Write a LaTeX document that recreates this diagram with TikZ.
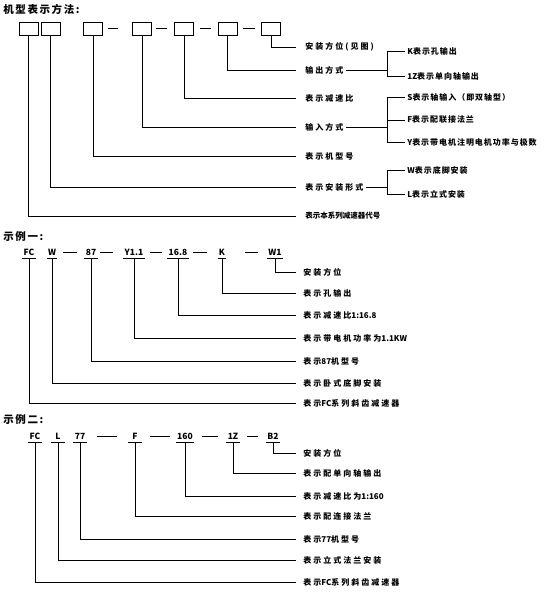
\documentclass[tikz,border=0pt]{standalone}
\usepackage{fontspec}
\newfontfamily\cjk[LetterSpace=25]{Noto Sans CJK SC}
\newfontfamily\cjkn{Noto Sans CJK SC}
\newfontfamily\cjks[LetterSpace=12]{Noto Sans CJK SC}
\newfontfamily\cjkt[LetterSpace=15]{Noto Sans CJK SC}
\newcommand\lat[1]{{\cjkn\bfseries #1}}
\tikzset{
  box/.style={draw, minimum width=19pt, minimum height=13pt, inner sep=0pt},
  lab/.style={anchor=west, inner sep=2pt, font=\cjk\bfseries\fontsize{8}{9}\selectfont},
  sublab/.style={anchor=west, inner sep=2pt, font=\cjks\bfseries\fontsize{8}{9}\selectfont},
  codeA/.style={anchor=south, inner xsep=1pt, inner ysep=2pt, text height=6pt, text depth=0pt, font=\cjkn\bfseries\fontsize{8.5}{9}\selectfont},
  codeB/.style={codeA, minimum width=14pt},
  ttl/.style={anchor=west, inner sep=0pt, font=\cjkt\bfseries\fontsize{10.5}{12}\selectfont}
}
\begin{document}
\begin{tikzpicture}[x=1pt, y=-1pt, line width=0.8pt]
\useasboundingbox[fill=white] (0,0) rectangle (560,598);

% ---------- titles
\node[ttl] (t0) at (3,9) {机型表示方法:};
\node[ttl] (t1) at (3,237) {示例一:};
\node[ttl] (t2) at (3,420) {示例二:};

% ---------- top: boxes
\node[box] (b1) at (28.5,28.5) {};
\node[box] (b2) at (50.5,28.5) {};
\node[box] (b3) at (93,28.5) {};
\node[box] (b4) at (142,28.5) {};
\node[box] (b5) at (184,28.5) {};
\node[box] (b6) at (227.5,28.5) {};
\node[box] (b7) at (271,28.5) {};
\draw (108,28) -- (118,28);
\draw (156,28) -- (167,28);
\draw (200,28) -- (211,28);
\draw (243,28) -- (255,28);

% top labels
\node[lab] (l7) at (303,47) {安装方位(见图)};
\node[lab] (l6) at (303,70) {输出方式};
\node[lab] (l5) at (303,98) {表示减速比};
\node[lab] (l4) at (303,127) {输入方式};
\node[lab] (l3) at (303,156) {表示机型号};
\node[lab] (l2) at (303,187) {表示安装形式};
\node[lab, font=\cjkn\bfseries\fontsize{7.5}{9}\selectfont] (l1) at (303,216) {表示本系列减速器代号};

\foreach \i in {1,...,7}{
  \draw (b\i.south) |- ([xshift=-7pt]l\i.west);
}

% sub labels
\node[sublab] (s61) at (405,51) {\lat{K}表示孔输出};
\node[sublab] (s62) at (405,76) {\lat{1Z}表示单向轴输出};
\node[sublab] (s41) at (405,97) {\lat{S}表示轴输入（即双轴型）};
\node[sublab] (s42) at (405,120) {\lat{F}表示配联接法兰};
\node[sublab] (s43) at (405,142) {\lat{Y}表示带电机注明电机功率与极数};
\node[sublab] (s21) at (405,170) {\lat{W}表示底脚安装};
\node[sublab] (s22) at (405,194) {\lat{L}表示立式安装};

\draw (s61.west) -- ++(-18,0) coordinate (k6) |- (s62.west);
\draw (l6.east) -- (l6.east -| k6);
\draw (s41.west) -- ++(-18,0) coordinate (k4) |- (s43.west);
\draw (s42.west) -- (s42.west -| k4);
\draw (l4.east) -- (l4.east -| k4);
\draw (s21.west) -- ++(-18,0) coordinate (k2) |- (s22.west);
\draw (l2.east) -- (l2.east -| k2);

% ---------- example 1
\node[codeA] (e1) at (29,258) {FC};
\node[codeA] (e2) at (52,258) {W};
\node[codeA] (e3) at (91,258) {87};
\node[codeA] (e4) at (134,258) {Y1.1};
\node[codeA] (e5) at (178,258) {16.8};
\node[codeA] (e6) at (222,258) {K};
\node[codeA] (e7) at (275,258) {W1};
\draw (63,252) -- (77,252);
\draw (100,252) -- (113,252);
\draw (150,252) -- (162,252);
\draw (193,252) -- (207,252);
\draw (245,252) -- (258,252);

\node[lab] (f7) at (301,272) {安装方位};
\node[lab] (f6) at (301,293) {表示孔输出};
\node[lab] (f5) at (301,315) {表示减速比\lat{1:16.8}};
\node[lab] (f4) at (301,338) {表示带电机功率为\lat{1.1KW}};
\node[lab] (f3) at (301,361) {表示\lat{87}机型号};
\node[lab] (f2) at (301,383) {表示卧式底脚安装};
\node[lab] (f1) at (301,403) {表示\lat{FC}系列斜齿减速器};

\foreach \i in {1,...,7}{
  \draw (e\i.south west) -- (e\i.south east);
  \draw (e\i.south) |- ([xshift=-5pt]f\i.west);
}

% ---------- example 2
\node[codeB] (g1) at (35,442) {FC};
\node[codeB] (g2) at (58,442) {L};
\node[codeB] (g3) at (80,442) {77};
\node[codeB] (g4) at (135,442) {F};
\node[codeB] (g5) at (185,442) {160};
\node[codeB] (g6) at (233,442) {1Z};
\node[codeB] (g7) at (273,442) {B2};
\draw (97,436) -- (117,436);
\draw (150,436) -- (170,436);
\draw (202,436) -- (218,436);
\draw (247,436) -- (258,436);

\node[lab] (h7) at (301,453) {安装方位};
\node[lab] (h6) at (301,473) {表示配单向轴输出};
\node[lab] (h5) at (301,496) {表示减速比为\lat{1:160}};
\node[lab] (h4) at (301,516) {表示配连接法兰};
\node[lab] (h3) at (301,539) {表示\lat{77}机型号};
\node[lab] (h2) at (301,560) {表示立式法兰安装};
\node[lab] (h1) at (301,582) {表示\lat{FC}系列斜齿减速器};

\foreach \i in {1,...,7}{
  \draw (g\i.south west) -- (g\i.south east);
  \draw (g\i.south) |- ([xshift=-5pt]h\i.west);
}
\end{tikzpicture}
\end{document}
